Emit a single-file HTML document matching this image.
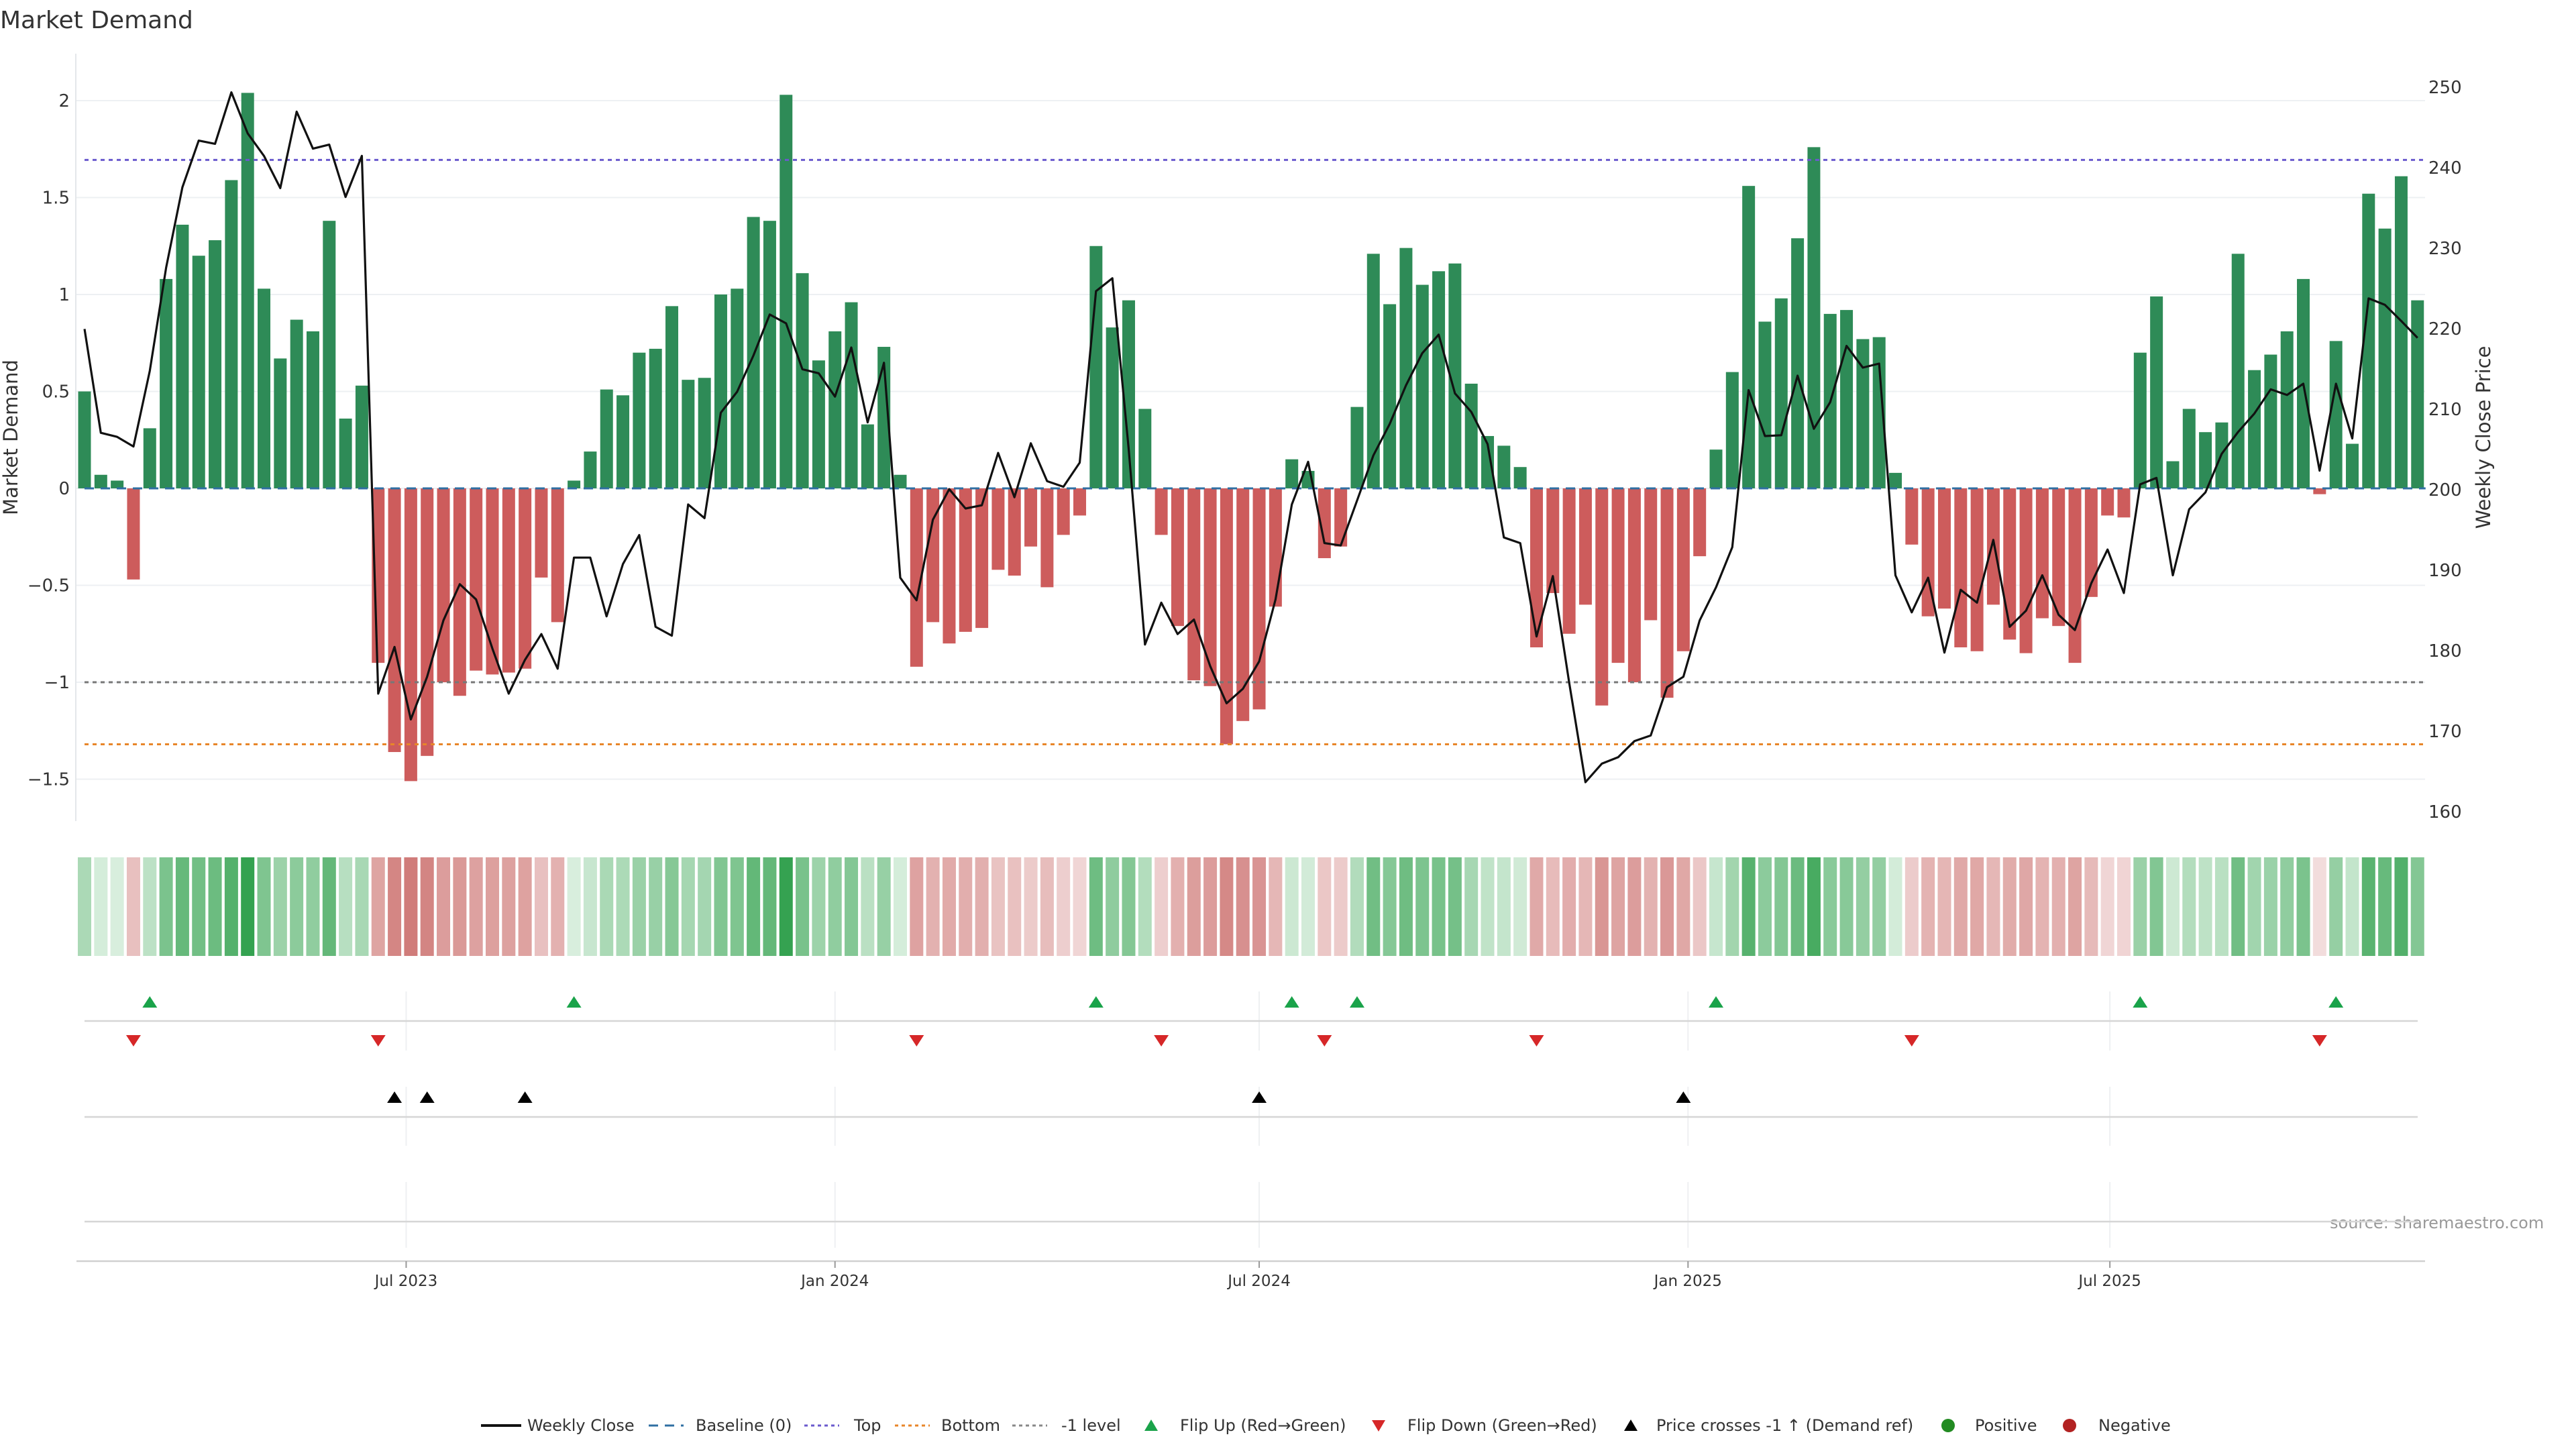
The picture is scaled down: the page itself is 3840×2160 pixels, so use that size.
<!DOCTYPE html>
<html><head><meta charset="utf-8"><title>Market Demand</title>
<style>
html,body{margin:0;padding:0;background:#fff;}
svg{display:block;font-family:"DejaVu Sans","Liberation Sans",sans-serif;}
</style></head>
<body>
<svg id="chart" xmlns="http://www.w3.org/2000/svg" width="3840" height="2160" viewBox="0 0 3840 2160">
<rect x="0" y="0" width="3840" height="2160" fill="#fff"/>
<text x="0" y="42" font-size="36" fill="#333">Market Demand</text>
<text transform="translate(26,652) rotate(-90)" text-anchor="middle" font-size="29" fill="#333">Market Demand</text>
<text transform="translate(3712,652) rotate(-90)" text-anchor="middle" font-size="29" fill="#333">Weekly Close Price</text>
<text x="3473" y="1831" font-size="24" fill="#999">source: sharemaestro.com</text>
<g id="grid"></g>
<g id="bars"></g>
<g id="refs"></g>
<g id="line"></g>
<g id="heat"></g>
<g id="marks"></g>
<g id="axes"></g>
<g id="legend"></g>
</svg>
<script>
const demand = [0.50,0.07,0.04,-0.47,0.31,1.08,1.36,1.20,1.28,1.59,2.04,1.03,0.67,0.87,0.81,1.38,0.36,0.53,-0.90,-1.36,-1.51,-1.38,-1.00,-1.07,-0.94,-0.96,-0.95,-0.93,-0.46,-0.69,
0.04,0.19,0.51,0.48,0.70,0.72,0.94,0.56,0.57,1.00,1.03,1.40,1.38,2.03,1.11,0.66,0.81,0.96,0.33,0.73,0.07,-0.92,-0.69,-0.80,-0.74,-0.72,-0.42,-0.45,-0.30,-0.51,
-0.24,-0.14,1.25,0.83,0.97,0.41,-0.24,-0.71,-0.99,-1.02,-1.32,-1.20,-1.14,-0.61,0.15,0.09,-0.36,-0.30,0.42,1.21,0.95,1.24,1.05,1.12,1.16,0.54,0.27,0.22,0.11,-0.82,
-0.54,-0.75,-0.60,-1.12,-0.90,-1.00,-0.68,-1.08,-0.84,-0.35,0.20,0.60,1.56,0.86,0.98,1.29,1.76,0.90,0.92,0.77,0.78,0.08,-0.29,-0.66,-0.62,-0.82,-0.84,-0.60,-0.78,-0.85,
-0.67,-0.71,-0.90,-0.56,-0.14,-0.15,0.70,0.99,0.14,0.41,0.29,0.34,1.21,0.61,0.69,0.81,1.08,-0.03,0.76,0.23,1.52,1.34,1.61,0.97];
const price = [219.8,206.9,206.4,205.2,214.6,227.4,237.4,243.2,242.8,249.2,244.1,241.3,237.3,246.8,242.2,242.7,236.2,241.3,174.5,180.3,171.3,176.6,183.6,188.1,186.2,180.1,174.5,178.7,181.9,177.6,
191.4,191.4,184.1,190.6,194.2,182.8,181.7,198.0,196.3,209.4,212.0,216.5,221.6,220.5,214.8,214.3,211.4,217.5,208.2,215.6,188.9,186.1,196.1,199.9,197.5,197.9,204.4,198.9,205.6,200.9,
200.2,203.2,224.5,226.1,204.9,180.6,185.8,181.9,183.7,177.9,173.3,175.1,178.5,186.2,198.0,203.3,193.2,192.9,198.5,204.1,208.0,212.8,216.8,219.1,211.8,209.5,205.5,193.9,193.2,181.6,
189.1,175.9,163.5,165.8,166.6,168.6,169.3,175.3,176.6,183.6,187.7,192.7,212.2,206.5,206.6,214.0,207.4,210.7,217.7,215.0,215.5,189.2,184.6,188.9,179.6,187.4,185.8,193.6,182.8,184.8,
189.2,184.3,182.4,188.2,192.4,187.0,200.5,201.3,189.2,197.4,199.5,204.3,207.0,209.3,212.3,211.6,213.0,202.2,213.0,206.2,223.6,222.8,220.8,218.7];
const demandTicks = [2,1.5,1,0.5,0,-0.5,-1,-1.5];
const demandTickLabels = ["2","1.5","1","0.5","0","\u22120.5","\u22121","\u22121.5"];
const priceTicks = [250,240,230,220,210,200,190,180,170,160];
const dateTicks = ["2023-07-01","2024-01-01","2024-07-01","2025-01-01","2025-07-01"];
const dateTickLabels = ["Jul 2023","Jan 2024","Jul 2024","Jan 2025","Jul 2025"];
const topLevel = 1.694, bottomLevel = -1.32, minusLevel = -1;
const startDate = "2023-02-13";

const NS = "http://www.w3.org/2000/svg";
const X0 = 126, STEP = 24.32, Y0 = 728, PXD = 289, PXP = 12.0;
const t0 = Date.parse(startDate);
const xi = i => X0 + i * STEP;
const xd = s => X0 + (Date.parse(s) - t0) / (7 * 86400000) * STEP;
const yd = d => Y0 - d * PXD;
const yp = p => Y0 - (p - 200) * PXP;
const xEnd = xi(demand.length - 1) + 12;
function mk(tag, attrs, parent) { const e = document.createElementNS(NS, tag); for (const k in attrs) e.setAttribute(k, attrs[k]); parent.appendChild(e); return e; }
const G = id => document.getElementById(id);

demandTicks.forEach((v, k) => {
  const l = mk('line', {x1: 113, x2: 3615, y1: yd(v), y2: yd(v), stroke: '#edf0f3', 'stroke-width': 2}, G('grid'));
  
  
  const t = mk('text', {x: 104, y: yd(v) + 9, 'text-anchor': 'end', 'font-size': 26, fill: '#333'}, G('axes'));
  t.textContent = demandTickLabels[k];
  
  
});
priceTicks.forEach(v => {
  const t = mk('text', {x: 3620, y: yp(v) + 11, 'font-size': 26, fill: '#333'}, G('axes'));
  t.textContent = String(v);
  
  
});
const ax = mk('line', {x1: 113, x2: 113, y1: 80, y2: 1224, stroke: '#e4e7ea', 'stroke-width': 2}, G('axes'));



demand.forEach((d, i) => {
  const b = mk('rect', {x: xi(i) - 9.5, y: Math.min(yd(d), Y0), width: 19, height: Math.abs(yd(d) - Y0), fill: d >= 0 ? '#2e8b57' : '#cd5c5c'}, G('bars'));
  
  
});

[[topLevel, '#6a5acd', 'top-line'], [bottomLevel, '#e8862a', 'bottom-line'], [minusLevel, '#777', 'minus-one-line']].forEach(r => {
  const l = mk('line', {x1: X0, x2: xEnd, y1: yd(r[0]), y2: yd(r[0]), stroke: r[1], 'stroke-width': 3, 'stroke-dasharray': '6 6'}, G('refs'));
  
  
});
const base = mk('line', {x1: X0, x2: xEnd, y1: Y0, y2: Y0, stroke: '#2f6fa3', 'stroke-width': 3, 'stroke-dasharray': '14 10'}, G('refs'));



const pl = mk('polyline', {points: price.map((p, i) => xi(i).toFixed(1) + ',' + yp(p).toFixed(1)).join(' '), fill: 'none', stroke: '#111', 'stroke-width': 3.2, 'stroke-linejoin': 'round'}, G('line'));



const maxAbs = Math.max(...demand.map(Math.abs));
function mix(a, b, t) { return 'rgb(' + a.map((v, k) => Math.round(v + (b[k] - v) * t)).join(',') + ')'; }
demand.forEach((d, i) => {
  const t = Math.min(1, Math.abs(d) / maxAbs);
  const c = d >= 0 ? mix([222, 241, 226], [52, 162, 80], Math.pow(t, 0.85)) : mix([243, 222, 222], [196, 90, 87], t);
  const r = mk('rect', {x: xi(i) - 10, y: 1278, width: 20, height: 147, fill: c}, G('heat'));
  
  
});

[[1522, 1478, 1566], [1665, 1620, 1708], [1821, 1762, 1860]].forEach(p => {
  const l = mk('line', {x1: X0, x2: 3604, y1: p[0], y2: p[0], stroke: '#d6d6d6', 'stroke-width': 2.5}, G('axes'));
  
  
  dateTicks.forEach(s => {
    const v = mk('line', {x1: xd(s), x2: xd(s), y1: p[1], y2: p[2], stroke: '#eef0f2', 'stroke-width': 2}, G('grid'));
    
    
  });
});
function tri(x, y, up, color, name) {
  const pts = up ? [[x - 11, y + 8], [x + 11, y + 8], [x, y - 9]] : [[x - 11, y - 8], [x + 11, y - 8], [x, y + 9]];
  const e = mk('polygon', {points: pts.map(q => q.join(',')).join(' '), fill: color}, G('marks'));
  
  
}
const thr = 200 + (Y0 - yd(minusLevel)) / PXP;
for (let i = 1; i < demand.length; i++) {
  if (demand[i - 1] < 0 && demand[i] >= 0) tri(xi(i), 1494, true, '#1aa34a', 'flip-up-marker');
  if (demand[i - 1] >= 0 && demand[i] < 0) tri(xi(i), 1551, false, '#d62728', 'flip-down-marker');
  if (price[i - 1] < thr && price[i] >= thr) tri(xi(i), 1636, true, '#000', 'price-cross-marker');
}

const xa = mk('line', {x1: 114, x2: 3615, y1: 1880, y2: 1880, stroke: '#d0d0d0', 'stroke-width': 2.5}, G('axes'));


dateTicks.forEach((s, k) => {
  const tk = mk('line', {x1: xd(s), x2: xd(s), y1: 1880, y2: 1890, stroke: '#999', 'stroke-width': 2}, G('axes'));
  
  
  const t = mk('text', {x: xd(s), y: 1917, 'text-anchor': 'middle', 'font-size': 23, fill: '#333'}, G('axes'));
  t.textContent = dateTickLabels[k];
  
  
});

const LY = 2125;
function ltext(x, s) { const t = mk('text', {x: x, y: LY + 8, 'font-size': 24, fill: '#333'}, G('legend')); t.textContent = s;   }
function lline(x1, x2, c, dash, w, name) { const l = mk('line', {x1: x1, x2: x2, y1: LY, y2: LY, stroke: c, 'stroke-width': w, 'stroke-dasharray': dash}, G('legend'));   }
lline(717, 777, '#111', 'none', 4, 'legend-weekly-close'); ltext(786, 'Weekly Close');
lline(967, 1019, '#2f6fa3', '14 10', 3, 'legend-baseline'); ltext(1037, 'Baseline (0)');
lline(1199, 1251, '#6a5acd', '5 5', 3, 'legend-top'); ltext(1273, 'Top');
lline(1334, 1386, '#e8862a', '5 5', 3, 'legend-bottom'); ltext(1403, 'Bottom');
lline(1509, 1561, '#888', '5 5', 3, 'legend-minus-one'); ltext(1582, '-1 level');
function ltri(x, up, c, name) { const pts = up ? [[x - 10, LY + 8], [x + 10, LY + 8], [x, LY - 9]] : [[x - 10, LY - 8], [x + 10, LY - 8], [x, LY + 9]]; const e = mk('polygon', {points: pts.map(q => q.join(',')).join(' '), fill: c}, G('legend'));   }
ltri(1716, true, '#1aa34a', 'legend-flip-up'); ltext(1759, 'Flip Up (Red\u2192Green)');
ltri(2055, false, '#d62728', 'legend-flip-down'); ltext(2098, 'Flip Down (Green\u2192Red)');
ltri(2431, true, '#000', 'legend-price-cross'); ltext(2469, 'Price crosses -1 \u2191 (Demand ref)');
const c1 = mk('circle', {cx: 2904, cy: LY, r: 10, fill: '#228b22'}, G('legend'));


ltext(2944, 'Positive');
const c2 = mk('circle', {cx: 3085, cy: LY, r: 10, fill: '#b22222'}, G('legend'));


ltext(3128, 'Negative');
</script>
</body></html>
